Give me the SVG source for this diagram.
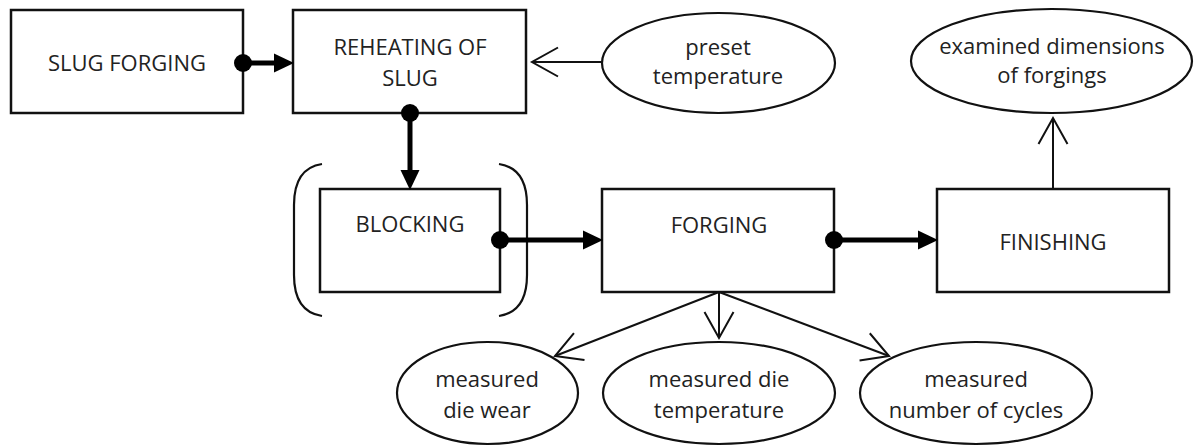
<svg xmlns="http://www.w3.org/2000/svg" width="1194" height="446" viewBox="0 0 1194 446">
<style>
.box{fill:#fff;stroke:#111;stroke-width:2.5}
.ell{fill:#fff;stroke:#111;stroke-width:2.2}
.t{font-family:"Open Sans","Liberation Sans",sans-serif;font-size:22px;fill:#222;text-anchor:middle}
.thick{stroke:#000;stroke-width:5;fill:none;marker-start:url(#dot);marker-end:url(#fill)}
.thin{stroke:#111;stroke-width:2;fill:none;marker-end:url(#open)}
.br{stroke:#111;stroke-width:2.2;fill:none}
</style>
<defs>
<marker id="fill" markerUnits="userSpaceOnUse" viewBox="-10 -10 20 20" refX="-10" refY="0" markerWidth="20" markerHeight="20" orient="auto" overflow="visible">
<path d="M-10,-9.5 L10,0 L-10,9.5 z" fill="#000"/>
</marker>
<marker id="dot" markerUnits="userSpaceOnUse" viewBox="-10 -10 20 20" refX="0" refY="0" markerWidth="20" markerHeight="20" orient="auto" overflow="visible">
<circle cx="0" cy="0" r="9" fill="#000"/>
</marker>
<marker id="open" markerUnits="userSpaceOnUse" viewBox="-28 -16 30 32" refX="0" refY="0" markerWidth="30" markerHeight="32" orient="auto" overflow="visible">
<path d="M-26,-14.5 L0,0 L-26,14.5" fill="none" stroke="#111" stroke-width="2"/>
</marker>
</defs>

<g id="slug-forging">
<rect class="box" x="11" y="10" width="232" height="103"/>
<text class="t" x="127" y="71">SLUG FORGING</text>
</g>
<g id="reheating">
<rect class="box" x="293" y="10" width="233" height="103"/>
<text class="t" x="410" y="55">REHEATING OF</text>
<text class="t" x="410" y="86">SLUG</text>
</g>
<g id="preset-temperature">
<ellipse class="ell" cx="718.5" cy="63" rx="116.5" ry="50"/>
<text class="t" x="718" y="55">preset</text>
<text class="t" x="718" y="84">temperature</text>
</g>
<g id="examined-dimensions">
<ellipse class="ell" cx="1051.5" cy="61" rx="140.5" ry="52"/>
<text class="t" x="1052" y="54">examined dimensions</text>
<text class="t" x="1052" y="83">of forgings</text>
</g>
<g id="blocking">
<rect class="box" x="320" y="189" width="180" height="103"/>
<text class="t" x="410" y="232">BLOCKING</text>
<path class="br" d="M322,164 C302,167 294,182 294,205 V275 C294,298 302,313 322,316"/>
<path class="br" d="M499,164 C519,167 527,182 527,205 V275 C527,298 519,313 499,316"/>
</g>
<g id="forging">
<rect class="box" x="602" y="189" width="232" height="103"/>
<text class="t" x="719" y="233">FORGING</text>
</g>
<g id="finishing">
<rect class="box" x="937" y="189" width="232" height="103"/>
<text class="t" x="1053" y="250">FINISHING</text>
</g>
<g id="die-wear">
<ellipse class="ell" cx="487.5" cy="393" rx="90.5" ry="51"/>
<text class="t" x="487" y="387">measured</text>
<text class="t" x="487" y="418">die wear</text>
</g>
<g id="die-temperature">
<ellipse class="ell" cx="719" cy="393" rx="116" ry="51"/>
<text class="t" x="719" y="387">measured die</text>
<text class="t" x="719" y="418">temperature</text>
</g>
<g id="number-of-cycles">
<ellipse class="ell" cx="976" cy="393" rx="116" ry="51"/>
<text class="t" x="976" y="387">measured</text>
<text class="t" x="976" y="418">number of cycles</text>
</g>

<g id="connectors">
<line class="thick" x1="243" y1="63" x2="274" y2="63"/>
<line class="thick" x1="410" y1="113" x2="410" y2="170"/>
<line class="thick" x1="500" y1="240" x2="583" y2="240"/>
<line class="thick" x1="834" y1="240" x2="918" y2="240"/>
<line class="thin" x1="602" y1="62" x2="532" y2="62"/>
<line class="thin" x1="1053" y1="189" x2="1053" y2="118"/>
<line class="thin" x1="719" y1="292" x2="555" y2="356"/>
<line class="thin" x1="719" y1="292" x2="719" y2="338"/>
<line class="thin" x1="719" y1="292" x2="889" y2="356"/>
</g>
</svg>
